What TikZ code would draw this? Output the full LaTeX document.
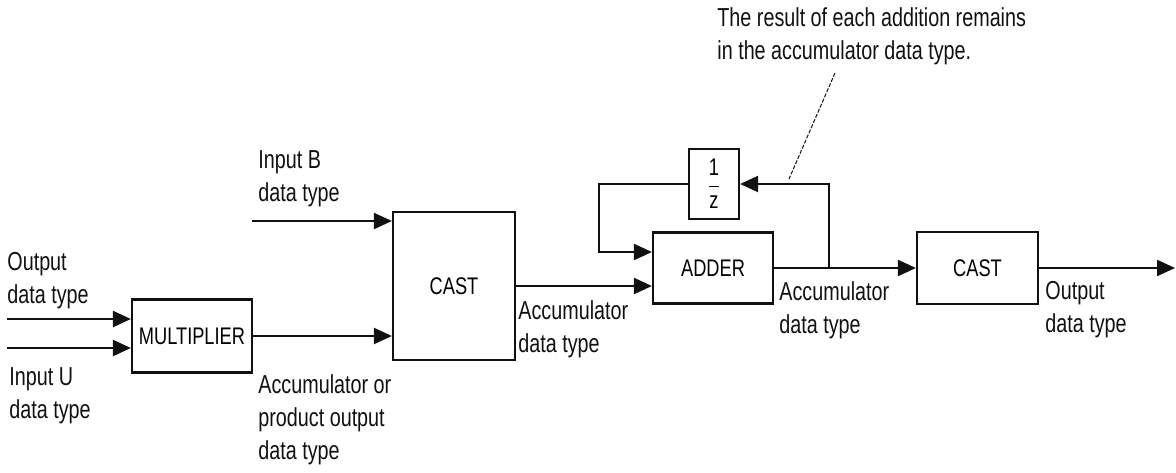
\documentclass[tikz,border=0pt]{standalone}
\usepackage{amsmath}
\usepackage{fontspec}
\setmainfont[FakeStretch=0.76]{Liberation Sans}
\usetikzlibrary{arrows.meta}
\definecolor{lineBlack}{HTML}{111111}

\begin{document}
\begin{tikzpicture}[
      x=0.5pt, y=-0.5pt,
      blocknode/.style={
        rectangle, draw=lineBlack, line width=1.1pt, inner sep=0pt,
        font=\fontsize{12pt}{16.5pt}\selectfont
      },
      lbl/.style={anchor=west, align=left, inner sep=0pt, text=lineBlack,
        font=\fontsize{13pt}{16.5pt}\selectfont},
      sigarr/.style={-{Triangle[length=9pt,width=8pt]}, draw=lineBlack, line width=1.1pt},
      leader/.style={draw=lineBlack, line width=0.5pt, dash pattern=on 2pt off 0.8pt}
    ]
      \useasboundingbox (0,0) rectangle (1176,472);

      % blocks
      \node[blocknode, minimum width=60pt, minimum height=36.5pt] (mult) at (192,336) {MULTIPLIER};
      \node[blocknode, minimum width=61pt, minimum height=74pt] (cast1) at (454,286) {CAST};
      \node[blocknode, minimum width=60pt, minimum height=35.5pt] (adder) at (713,268) {ADDER};
      \node[blocknode, minimum width=25pt, minimum height=35pt] (delay) at (714,184) {$\displaystyle\frac{\text{1}}{\text{z}}$};
      \node[blocknode, minimum width=60.5pt, minimum height=36pt] (cast2) at (977.5,268) {CAST};

      % labels
      \node[lbl] (outLbl) at (7,280.5) {Output\\data type};
      \node[lbl] (inULbl) at (9,395.5) {Input U\\data type};
      \node[lbl] (inBLbl) at (258,178.5) {Input B\\data type};
      \node[lbl] (prodLbl) at (258,420) {Accumulator or\\product output\\data type};
      \node[lbl] (accLbl) at (518,329.5) {Accumulator\\data type};
      \node[lbl] (sumLbl) at (779,310) {Accumulator\\data type};
      \node[lbl] (castLbl) at (1045,310) {Output\\data type};
      \node[lbl] (note) at (717,36.5) {The result of each addition remains\\in the accumulator data type.};

      % free ends
      \coordinate (inOut) at (7,319);
      \coordinate (inU) at (7,348);
      \coordinate (inB) at (252,221);
      \coordinate (tap) at (829,268);
      \coordinate (fbIn) at (599,252);
      \coordinate (outEnd) at (1175,268);
      \coordinate (noteEnd) at (835,73);
      \coordinate (noteTip) at (789,179);

      \draw[sigarr] (inOut) -- (inOut -| mult.west);
      \draw[sigarr] (inU) -- (inU -| mult.west);
      \draw[sigarr] (mult.east) -- (mult.east -| cast1.west);
      \draw[sigarr] (inB) -- (inB -| cast1.west);
      \draw[sigarr] (cast1.east) -- (cast1.east -| adder.west);
      \draw[sigarr] (adder.east) -- (adder.east -| cast2.west);
      \draw[sigarr] (tap) |- (delay.east);
      \draw[sigarr] (delay.west) -| (fbIn) -- (fbIn -| adder.west);
      \draw[sigarr] (cast2.east) -- (cast2.east -| outEnd);
      \draw[leader] (noteEnd) -- (noteTip);
    \end{tikzpicture}
\end{document}
